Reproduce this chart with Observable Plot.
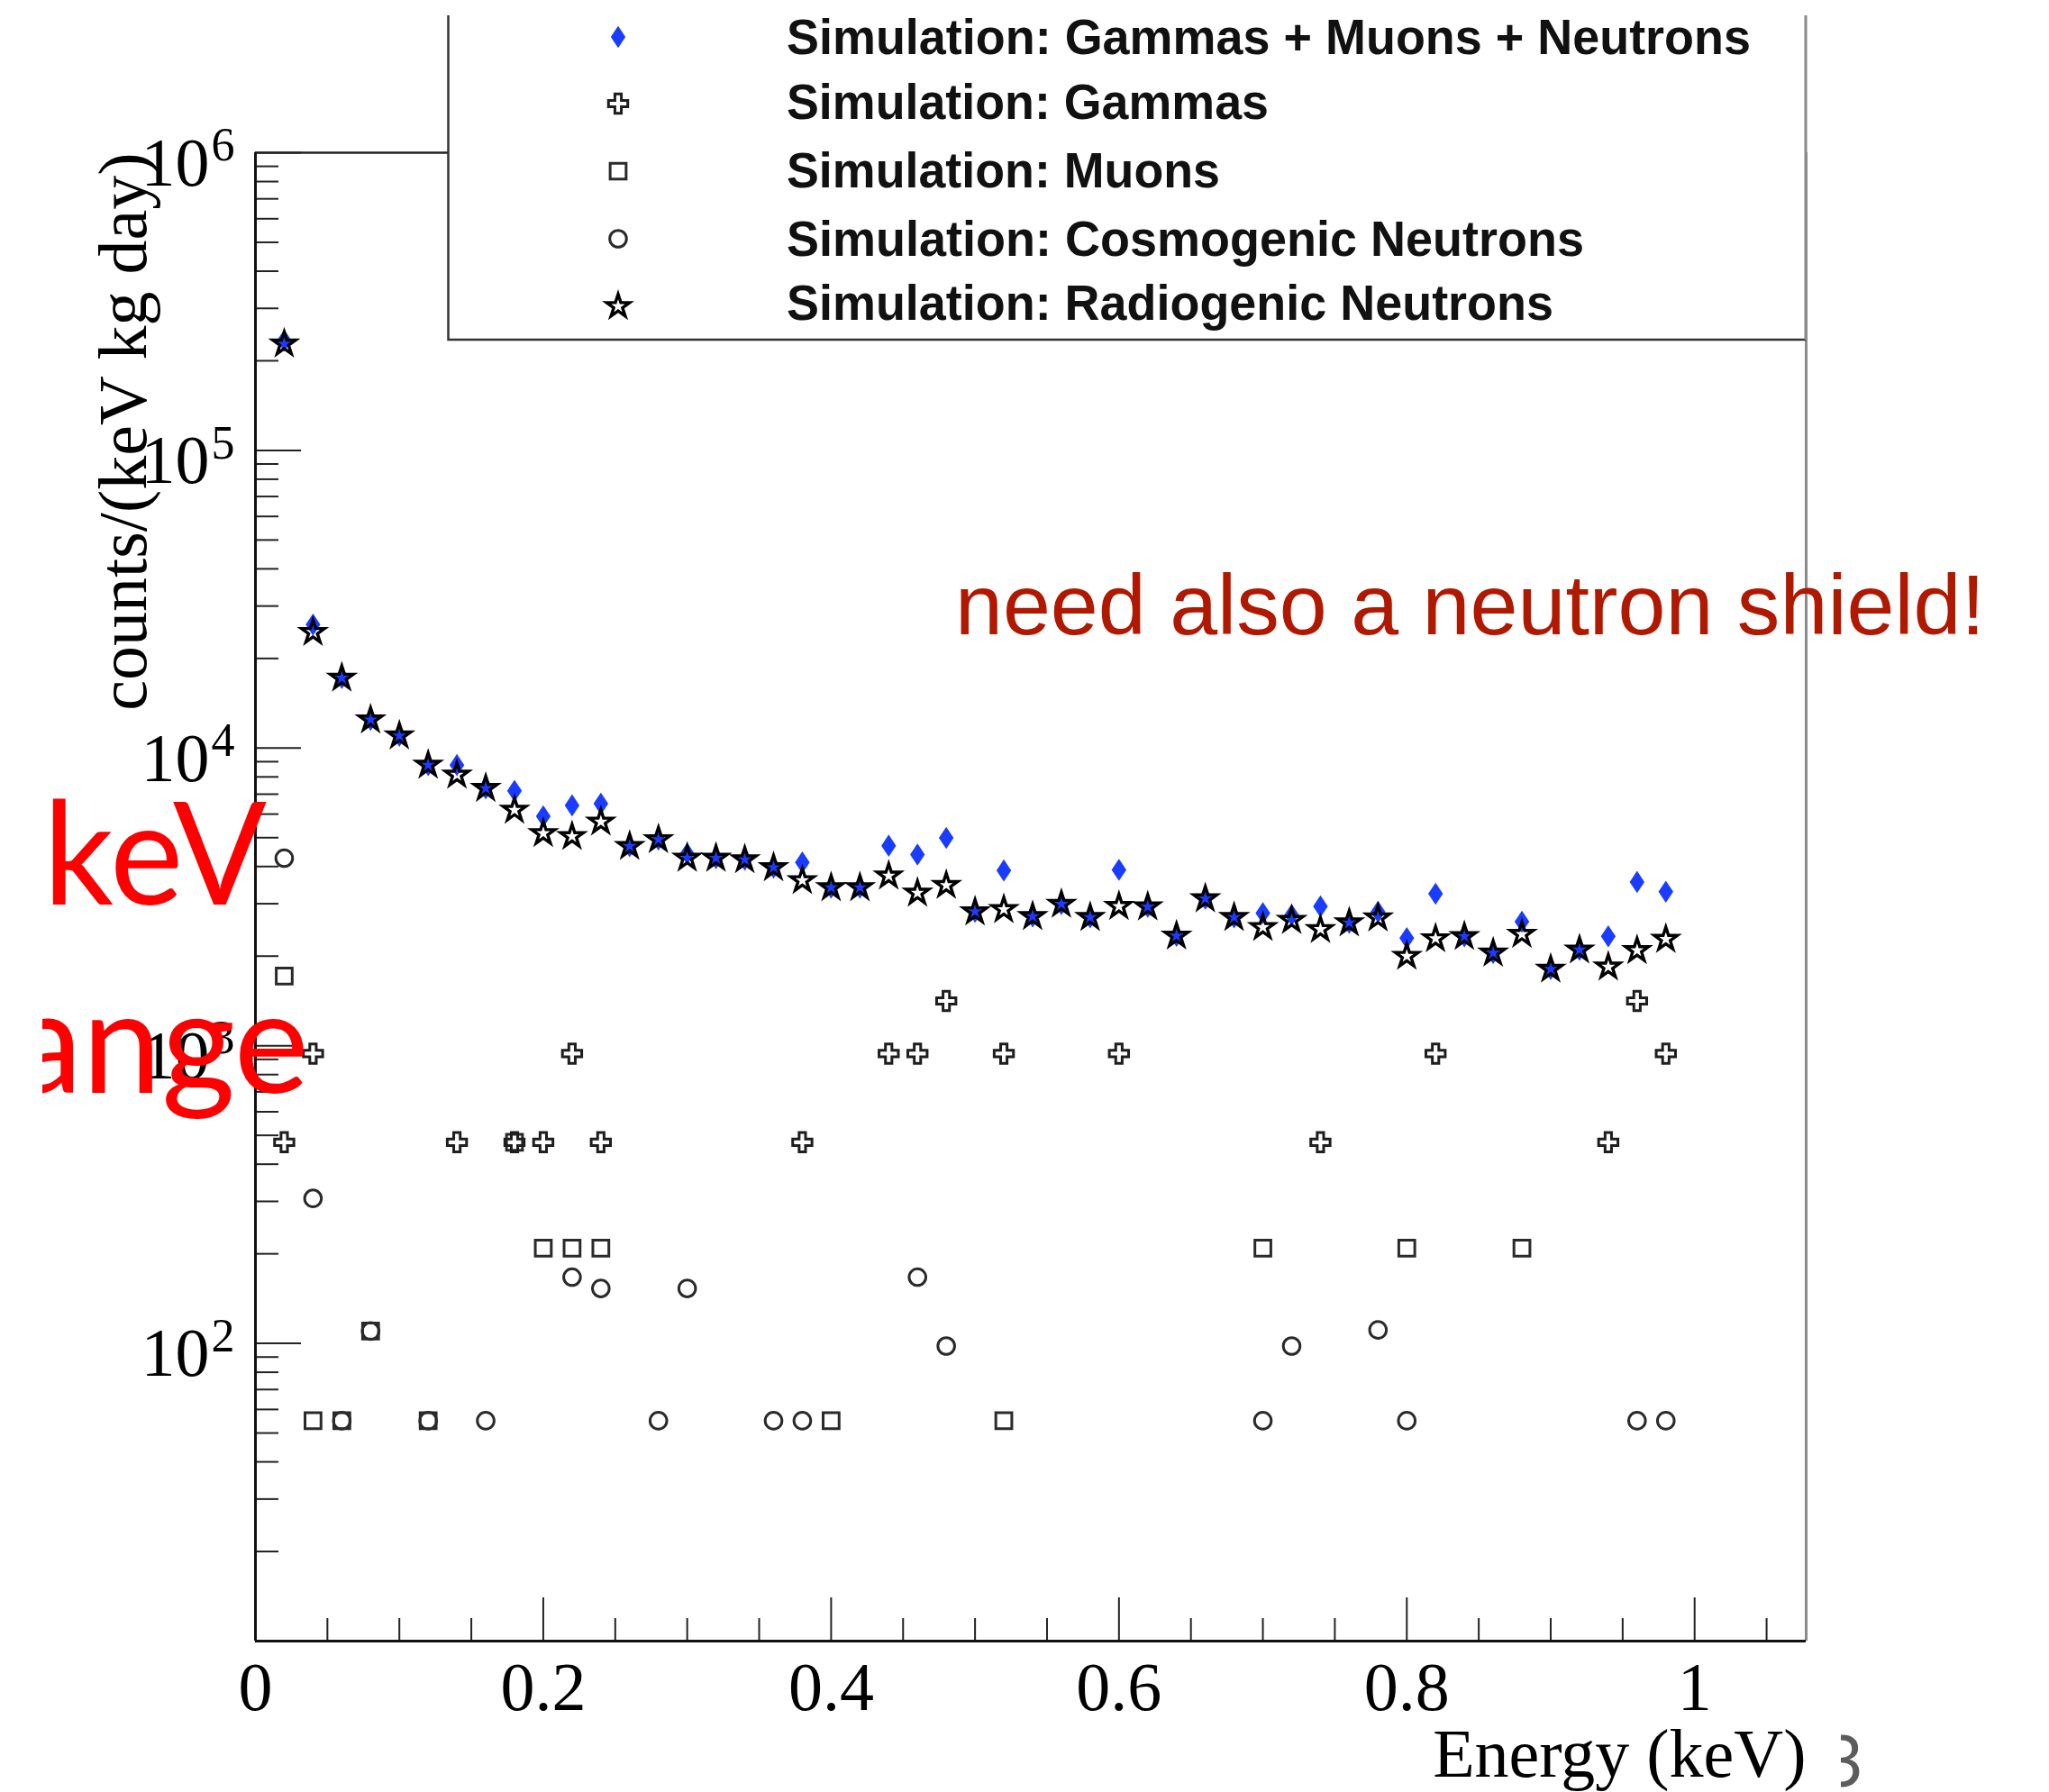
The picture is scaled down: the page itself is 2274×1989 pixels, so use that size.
<!DOCTYPE html>
<html>
<head>
<meta charset="utf-8">
<script src="https://cdn.jsdelivr.net/npm/d3@7"></script>
<script src="https://cdn.jsdelivr.net/npm/@observablehq/plot@0.6"></script>
<style>
  html, body { margin: 0; padding: 0; background: #fff; }
  #wrap { position: relative; width: 2274px; height: 1989px; overflow: hidden; background: #fff; }
  #overlay { position: absolute; left: 0; top: 0; pointer-events: none; }
</style>
</head>
<body>
<div id="wrap"></div>
<script>
// Energy bin centres (keV)
const energy = [0.02, 0.04, 0.06, 0.08, 0.10, 0.12, 0.14, 0.16, 0.18, 0.20,
                0.22, 0.24, 0.26, 0.28, 0.30, 0.32, 0.34, 0.36, 0.38, 0.40,
                0.42, 0.44, 0.46, 0.48, 0.50, 0.52, 0.54, 0.56, 0.58, 0.60,
                0.62, 0.64, 0.66, 0.68, 0.70, 0.72, 0.74, 0.76, 0.78, 0.80,
                0.82, 0.84, 0.86, 0.88, 0.90, 0.92, 0.94, 0.96, 0.98];

// Simulation: Gammas + Muons + Neutrons (counts/(keV kg day))
const totalCounts = [234000, 26000, 17200, 12450, 11000, 8770, 8770, 7330, 7180, 5900,
                     6420, 6500, 4680, 4930, 4420, 4270, 4220, 3970, 4130, 3400,
                     3400, 4700, 4390, 4990, 2820, 3880, 2720, 2990, 2700, 3900,
                     2930, 2340, 3120, 2700, 2790, 2750, 2940, 2590, 2820, 2300,
                     3240, 2330, 2050, 2610, 1810, 2100, 2330, 3550, 3290];

// Simulation: Radiogenic Neutrons
const radiogenicCounts = [228000, 24500, 17200, 12450, 11000, 8770, 8120, 7330, 6190, 5170,
                          5050, 5650, 4680, 4930, 4270, 4270, 4220, 3970, 3590, 3400,
                          3400, 3720, 3260, 3460, 2820, 2870, 2720, 2990, 2700, 2940,
                          2930, 2340, 3120, 2700, 2500, 2640, 2460, 2590, 2690, 2000,
                          2290, 2330, 2050, 2370, 1810, 2100, 1840, 2090, 2280];

// Simulation: Gammas (only non-empty bins)
const gammaEnergy = [0.02, 0.04, 0.14, 0.18, 0.20, 0.22, 0.24, 0.38, 0.44, 0.46,
                     0.48, 0.52, 0.60, 0.74, 0.82, 0.94, 0.96, 0.98];
const gammaCounts = [474, 941, 474, 474, 474, 941, 474, 474, 941, 941,
                     1414, 941, 941, 474, 941, 474, 1414, 941];

// Simulation: Muons
const muonEnergy = [0.02, 0.04, 0.06, 0.08, 0.12, 0.18, 0.20, 0.22, 0.24, 0.40,
                    0.52, 0.70, 0.80, 0.88];
const muonCounts = [1714, 55, 55, 110, 55, 474, 209, 209, 209, 55,
                    55, 209, 209, 209];

// Simulation: Cosmogenic Neutrons
const cosmoEnergy = [0.02, 0.04, 0.06, 0.08, 0.12, 0.16, 0.22, 0.24, 0.28, 0.30,
                     0.36, 0.38, 0.46, 0.48, 0.70, 0.72, 0.78, 0.80, 0.96, 0.98];
const cosmoCounts = [4266, 307, 55, 110, 55, 55, 167, 153, 55, 153,
                     55, 55, 167, 98, 55, 98, 111, 55, 55, 55];

const legendLabels = [
  "Simulation: Gammas + Muons + Neutrons",
  "Simulation: Gammas",
  "Simulation: Muons",
  "Simulation: Cosmogenic Neutrons",
  "Simulation: Radiogenic Neutrons"
];

// Axis ticks
const xTickValues = [0, 0.2, 0.4, 0.6, 0.8, 1];
const xMinorTicks = [0.05, 0.1, 0.15, 0.25, 0.3, 0.35, 0.45, 0.5, 0.55, 0.65, 0.7, 0.75,
                     0.85, 0.9, 0.95, 1.05];
const yDecades = [100, 1000, 10000, 100000, 1000000];
const yExponents = ["2", "3", "4", "5", "6"];

// ---------------------------------------------------------------------------
const W = 2274, H = 1989;
const M = {left: 283, right: 270, top: 169, bottom: 168};
const innerW = W - M.left - M.right;
const innerH = H - M.top - M.bottom;
const xMax = 1.0775;

const pairs = (xs, ys) => xs.map((x, i) => ({x, y: ys[i]}));
const totalPts = pairs(energy, totalCounts);
const radioPts = pairs(energy, radiogenicCounts);
const gammaPts = pairs(gammaEnergy, gammaCounts);
const muonPts = pairs(muonEnergy, muonCounts);
const cosmoPts = pairs(cosmoEnergy, cosmoCounts);

const yMinor = [];
for (let e = 1; e < 6; e++) for (let k = 2; k <= 9; k++) yMinor.push(k * 10 ** e);
const yMajorTicks = [10, ...yDecades];

const serif = "'Liberation Serif', 'Times New Roman', serif";
const sans = "'Liberation Sans', Arial, Helvetica, sans-serif";

// A wider rhombus than d3's symbolDiamond (half-height = 1.5 × half-width)
const rhombus = {
  draw(context, size) {
    const a = Math.sqrt(size / 3), b = 1.5 * a;
    context.moveTo(0, -b);
    context.lineTo(a, 0);
    context.lineTo(0, b);
    context.lineTo(-a, 0);
    context.closePath();
  }
};

// Marker styles shared by chart and legend
const blue = "#1a3cff";
const sym = {
  total: {symbol: rhombus, r: 8, fill: blue, stroke: "none", strokeWidth: 0},
  gamma: {symbol: "cross", r: 9, fill: "none", stroke: "#1e1e1e", strokeWidth: 3},
  muon: {symbol: "square", r: 10, fill: "none", stroke: "#2a2a2a", strokeWidth: 3},
  cosmo: {symbol: "circle", r: 9.3, fill: "none", stroke: "#2a2a2a", strokeWidth: 3},
  radio: {symbol: "star", r: 8, fill: "none", stroke: "#000", strokeWidth: 3.4}
};

const chart = Plot.plot({
  width: W,
  height: H,
  marginLeft: M.left,
  marginRight: M.right,
  marginTop: M.top,
  marginBottom: M.bottom,
  style: {background: "white", fontFamily: serif, fontSize: "76px", color: "black"},
  x: {domain: [0, xMax], ticks: xTickValues, tickSize: 0, tickPadding: 23, label: null,
      tickFormat: d => String(d)},
  y: {type: "log", domain: [10, 1e6], axis: null},
  marks: [
    // frame
    Plot.ruleY([1e6], {stroke: "#222", strokeWidth: 2.5}),
    Plot.ruleX([xMax], {stroke: "#8a8a8a", strokeWidth: 3}),
    // y ticks (inward)
    Plot.tickY(yMinor, {insetRight: innerW - 26, stroke: "#222", strokeWidth: 2}),
    Plot.tickY(yMajorTicks, {insetRight: innerW - 51, stroke: "#222", strokeWidth: 2}),
    // x ticks (inward)
    Plot.tickX(xMinorTicks, {insetTop: innerH - 25, stroke: "#222", strokeWidth: 2}),
    Plot.tickX(xTickValues, {insetTop: innerH - 48, stroke: "#222", strokeWidth: 2}),
    Plot.ruleX([0], {stroke: "#111", strokeWidth: 3}),
    Plot.ruleY([10], {stroke: "#111", strokeWidth: 3}),
    // y tick labels 10^n
    Plot.text(yDecades, {y: d => d, frameAnchor: "left", dx: -51, dy: 12,
      text: () => "10", textAnchor: "end", fontSize: 76, fontFamily: serif, fill: "black"}),
    Plot.text(yDecades, {y: d => d, frameAnchor: "left", dx: -49, dy: -8,
      text: (d, i) => yExponents[i], textAnchor: "start", fontSize: 52, fontFamily: serif, fill: "black"}),
    // axis titles
    Plot.text(["counts/(keV kg day)"], {frameAnchor: "top-left", rotate: -90, textAnchor: "end",
      dx: -175, text: d => d, fontSize: 76, fontFamily: serif, fill: "black"}),
    Plot.text(["Energy (keV)"], {frameAnchor: "bottom-right", textAnchor: "end",
      dy: 150, text: d => d, fontSize: 76, fontFamily: serif, fill: "black"}),
    // data
    Plot.dot(muonPts, {x: "x", y: "y", ...sym.muon}),
    Plot.dot(cosmoPts, {x: "x", y: "y", ...sym.cosmo}),
    Plot.dot(gammaPts, {x: "x", y: "y", ...sym.gamma}),
    Plot.dot(totalPts, {x: "x", y: "y", ...sym.total}),
    Plot.dot(radioPts, {x: "x", y: "y", ...sym.radio})
  ]
});

const wrap = document.getElementById("wrap");
wrap.appendChild(chart);

// ---------------------------------------------------------------------------
// Legend box and annotations drawn on top of the chart
const ov = d3.select(wrap).append("svg")
  .attr("id", "overlay")
  .attr("width", W)
  .attr("height", H);

const box = {x0: 497.5, x1: 2004, y0: 17, y1: 377};
ov.append("rect")
  .attr("x", box.x0).attr("y", box.y0)
  .attr("width", box.x1 - box.x0).attr("height", box.y1 - box.y0)
  .attr("fill", "white");
ov.append("path")
  .attr("d", `M${box.x0},${box.y0}V${box.y1}H${box.x1}`)
  .attr("fill", "none").attr("stroke", "#333").attr("stroke-width", 2.5);
ov.append("path")
  .attr("d", `M${box.x1},${box.y0}V${box.y1}`)
  .attr("fill", "none").attr("stroke", "#8a8a8a").attr("stroke-width", 3);

const symbolType = {
  cross: d3.symbolCross, square: d3.symbolSquare,
  circle: d3.symbolCircle, star: d3.symbolStar
};
const legendStyles = [sym.total, sym.gamma, sym.muon, sym.cosmo, sym.radio];
const legendSymbolY = [41, 115, 190, 265, 340];
const legendTextY = [60, 132, 208, 284, 355];
const legendTextWidth = [1070, 535, 481, 885, 851];

legendLabels.forEach((label, i) => {
  const s = legendStyles[i];
  const type = typeof s.symbol === "string" ? symbolType[s.symbol] : s.symbol;
  ov.append("path")
    .attr("transform", `translate(686,${legendSymbolY[i]})`)
    .attr("d", d3.symbol(type, Math.PI * s.r * s.r)())
    .attr("fill", s.fill)
    .attr("stroke", s.stroke)
    .attr("stroke-width", s.strokeWidth);
  ov.append("text")
    .attr("x", 873).attr("y", legendTextY[i])
    .attr("font-family", sans).attr("font-weight", "bold")
    .attr("font-size", 56).attr("fill", "#111")
    .attr("textLength", legendTextWidth[i]).attr("lengthAdjust", "spacingAndGlyphs")
    .text(label);
});

// Annotation in dark red
ov.append("text")
  .attr("x", 1060).attr("y", 704)
  .attr("font-family", sans).attr("font-size", 95)
  .attr("fill", "#b01800")
  .attr("textLength", 1143).attr("lengthAdjust", "spacingAndGlyphs")
  .text("need also a neutron shield!");

// Bright red annotation, cut at the left edge
const defs = ov.append("defs");
defs.append("clipPath").attr("id", "leftCut")
  .append("rect").attr("x", 47).attr("y", 0).attr("width", W).attr("height", H);
defs.append("clipPath").attr("id", "pageCut")
  .append("rect").attr("x", 2043).attr("y", 1880).attr("width", 100).attr("height", 120);

const red = ov.append("g").attr("clip-path", "url(#leftCut)")
  .attr("font-family", "Lato, 'Open Sans', sans-serif").attr("fill", "#ff0000");
red.append("text")
  .attr("x", 48).attr("y", 1004)
  .attr("font-size", 160)
  .attr("textLength", 248).attr("lengthAdjust", "spacingAndGlyphs")
  .text("keV");
red.append("text")
  .attr("x", 343).attr("y", 1213)
  .attr("text-anchor", "end")
  .attr("font-size", 160)
  .attr("textLength", 386).attr("lengthAdjust", "spacingAndGlyphs")
  .text("range");

// Page number fragment
ov.append("g").attr("clip-path", "url(#pageCut)")
  .append("text")
  .attr("x", 2068).attr("y", 1983)
  .attr("text-anchor", "end")
  .attr("font-family", "Lato, sans-serif").attr("font-size", 80)
  .attr("fill", "#5c5c5c")
  .text("3");
</script>
</body>
</html>
